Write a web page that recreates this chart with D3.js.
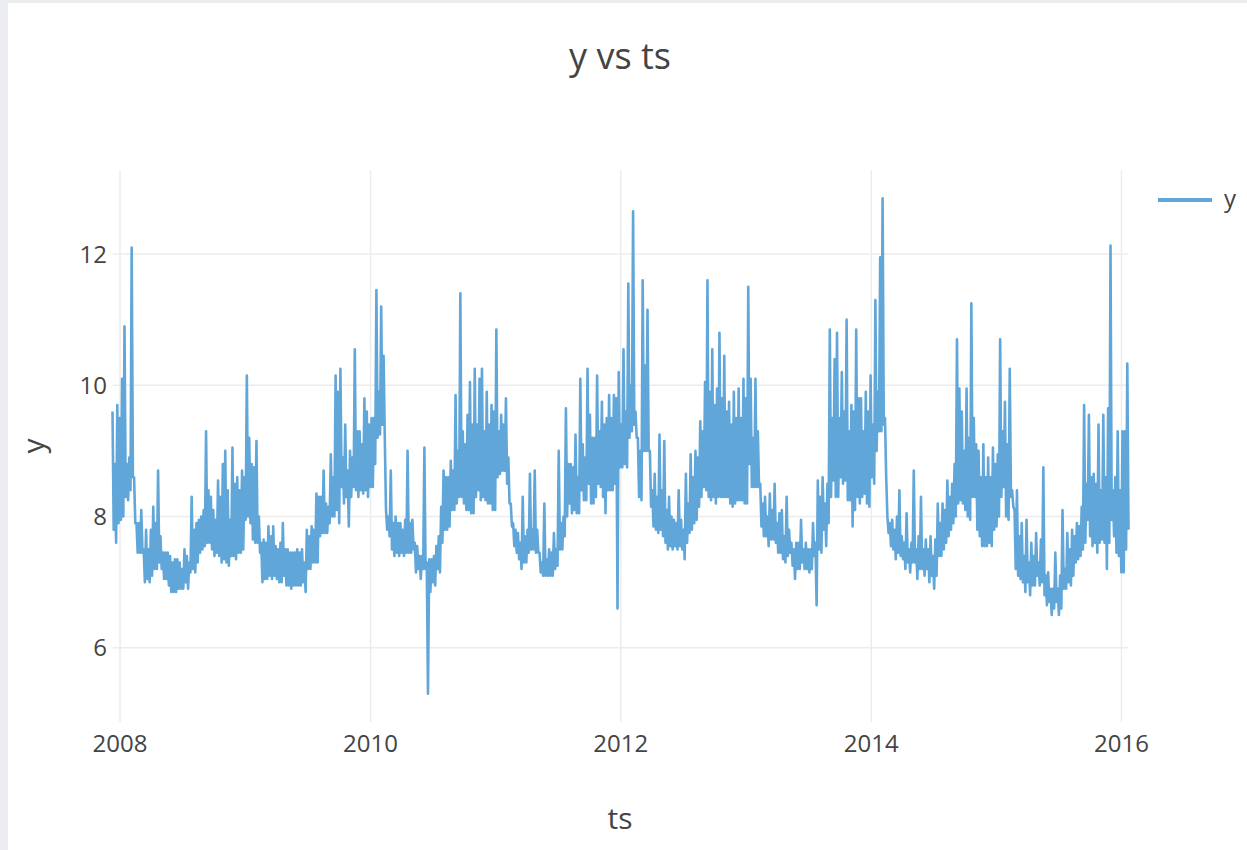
<!DOCTYPE html>
<html>
<head>
<meta charset="utf-8">
<script src="https://cdn.jsdelivr.net/npm/d3@7"></script>
<style>
  html, body { margin: 0; padding: 0; background: #ecedf1; }
  #svg-container { width: 1247px; height: 850px; }
  text { font-family: 'Open Sans', sans-serif; fill: #444; }
</style>
</head>
<body>
<div id="svg-container"></div>
<script>
// the daily series is read off as a weekly high (start of week)
// and a weekly low (half a week later), starting 2007-12-10
const startDate = '2007-12-10'
const stepHours = 84

// 2007-12-10 .. 2009-04-06
const high1 = [
  9.6, 8.8, 9.7, 9.5, 10.1, 10.9, 8.8, 8.9, 12.1, 8.6,
  7.9, 7.9, 8.1, 7.5, 7.8, 7.5, 7.8, 8.15, 7.9, 8.7,
  7.7, 7.45, 7.45, 7.45, 7.4, 7.3, 7.35, 7.35, 7.3, 7.2,
  7.5, 7.4, 7.3, 8.3, 7.8, 7.9, 7.95, 8.0, 8.1, 9.3,
  8.4, 8.3, 8.1, 7.95, 8.55, 8.3, 8.8, 9.0, 8.4, 7.95,
  9.05, 8.5, 8.6, 8.4, 8.7, 8.6, 10.15, 9.2, 8.8, 8.75,
  9.15, 8.0, 7.6, 7.65, 7.6, 7.85, 7.7, 7.85, 7.55, 7.5,
]
const low1 = [
  7.8, 7.6, 7.9, 7.95, 8.0, 8.3, 8.25, 8.4, 8.6, 7.9,
  7.45, 7.45, 7.45, 7.0, 7.05, 7.0, 7.1, 7.2, 7.2, 7.3,
  7.2, 7.05, 7.05, 6.95, 6.85, 6.85, 6.85, 6.9, 6.9, 6.9,
  7.0, 6.9, 7.15, 7.2, 7.15, 7.3, 7.45, 7.5, 7.55, 7.6,
  7.6, 7.5, 7.4, 7.45, 7.4, 7.3, 7.35, 7.3, 7.25, 7.4,
  7.4, 7.35, 7.45, 7.45, 7.5, 7.95, 8.0, 7.9, 7.65, 7.6,
  7.6, 7.45, 7.0, 7.05, 7.05, 7.1, 7.05, 7.1, 7.05, 7.0,
]
// 2009-04-13 .. 2010-08-02
const high2 = [
  7.6, 7.9, 7.5, 7.5, 7.45, 7.45, 7.45, 7.5, 7.45, 7.5,
  7.3, 7.8, 7.7, 7.85, 7.8, 8.35, 8.3, 8.3, 8.7, 8.2,
  8.15, 8.95, 8.6, 10.15, 9.9, 10.25, 8.9, 9.4, 8.7, 9.0,
  8.9, 10.55, 9.3, 9.3, 9.1, 9.8, 9.6, 9.4, 9.5, 9.5,
  11.45, 9.9, 11.2, 10.45, 8.1, 8.0, 8.7, 7.9, 8.0, 7.9,
  7.9, 7.8, 7.95, 9.0, 7.9, 7.95, 7.6, 7.55, 7.4, 7.4,
  9.05, 7.3, 7.35, 7.35, 7.4, 7.55, 7.7, 8.15, 8.7, 8.6,
]
const low2 = [
  7.0, 7.1, 6.95, 6.95, 6.9, 6.95, 6.95, 6.95, 6.95, 7.0,
  6.85, 7.2, 7.2, 7.3, 7.3, 7.3, 7.7, 7.75, 7.75, 7.75,
  7.9, 8.0, 8.0, 8.1, 7.9, 8.45, 8.2, 8.3, 7.85, 8.3,
  8.45, 8.4, 8.3, 8.4, 8.35, 8.4, 8.3, 8.45, 8.45, 8.8,
  9.2, 9.25, 9.4, 9.2, 7.8, 7.7, 7.5, 7.4, 7.45, 7.4,
  7.45, 7.4, 7.45, 7.45, 7.45, 7.5, 7.15, 7.2, 7.05, 7.2,
  7.2, 5.3, 6.85, 7.0, 6.95, 7.2, 7.15, 7.6, 7.8, 7.8,
]
// 2010-08-09 .. 2011-12-05
const high3 = [
  8.6, 8.85, 8.7, 9.85, 9.0, 11.4, 9.3, 9.1, 9.55, 10.05,
  9.4, 10.25, 9.4, 10.1, 10.25, 9.3, 9.9, 9.4, 9.7, 9.6,
  10.85, 9.3, 9.55, 9.4, 9.8, 8.9, 8.2, 7.9, 7.8, 7.75,
  7.6, 8.3, 7.7, 7.8, 8.65, 7.8, 8.7, 7.8, 7.45, 7.3,
  8.2, 7.35, 7.5, 7.45, 7.75, 7.5, 9.0, 7.9, 8.0, 9.65,
  8.8, 8.8, 8.75, 9.25, 8.6, 10.1, 9.1, 8.9, 10.25, 9.55,
  9.2, 9.2, 10.15, 9.3, 9.75, 9.4, 9.5, 9.85, 9.5, 9.85,
]
const low3 = [
  7.85, 8.1, 8.1, 8.2, 8.3, 8.3, 8.2, 8.1, 8.1, 8.05,
  8.05, 8.3, 8.4, 8.25, 8.3, 8.25, 8.2, 8.2, 8.1, 8.1,
  8.6, 8.65, 8.7, 8.7, 8.5, 8.2, 7.85, 7.55, 7.45, 7.35,
  7.2, 7.3, 7.3, 7.45, 7.5, 7.5, 7.45, 7.45, 7.15, 7.1,
  7.1, 7.1, 7.1, 7.1, 7.2, 7.25, 7.5, 7.5, 7.7, 8.0,
  8.2, 8.05, 8.1, 8.05, 8.05, 8.4, 8.25, 8.25, 8.5, 8.2,
  8.2, 8.3, 8.5, 8.45, 8.3, 8.05, 8.4, 8.4, 8.4, 8.5,
]
// 2011-12-12 .. 2013-04-01
const high4 = [
  9.8, 10.2, 9.4, 10.55, 9.6, 11.55, 10.0, 12.65, 9.6, 9.2,
  9.0, 11.6, 10.3, 11.15, 9.0, 8.4, 8.65, 8.3, 9.25, 8.4,
  9.15, 8.1, 8.3, 8.0, 7.95, 7.9, 8.4, 7.95, 7.8, 8.65,
  8.2, 8.95, 8.6, 9.0, 8.9, 9.45, 9.3, 10.05, 11.6, 9.9,
  10.55, 9.7, 9.95, 10.8, 9.8, 10.45, 9.6, 9.75, 9.4, 9.9,
  9.5, 9.95, 9.5, 10.1, 9.8, 11.5, 10.1, 9.2, 10.1, 9.3,
  8.5, 8.2, 8.3, 8.0, 8.35, 8.1, 8.5, 7.9, 8.05, 8.1,
]
const low4 = [
  6.6, 8.75, 8.75, 8.8, 8.75, 9.2, 9.3, 9.4, 9.2, 8.3,
  8.25, 9.0, 9.0, 9.0, 8.15, 7.85, 7.8, 7.75, 7.8, 7.7,
  7.6, 7.5, 7.55, 7.5, 7.55, 7.5, 7.55, 7.5, 7.35, 7.6,
  7.75, 7.8, 7.9, 7.95, 8.15, 8.3, 8.45, 8.4, 8.3, 8.25,
  8.3, 8.2, 8.3, 8.3, 8.3, 8.3, 8.3, 8.2, 8.15, 8.2,
  8.25, 8.25, 8.25, 8.2, 8.2, 8.8, 8.45, 8.45, 8.45, 8.45,
  7.85, 7.7, 7.7, 7.55, 7.65, 7.65, 7.6, 7.45, 7.45, 7.35,
]
// 2013-04-08 .. 2014-07-28
const high5 = [
  7.7, 8.3, 7.8, 7.6, 7.5, 7.6, 7.6, 7.95, 7.5, 7.6,
  7.5, 7.5, 7.9, 7.6, 8.55, 8.3, 8.6, 8.2, 8.5, 10.85,
  9.5, 10.4, 10.8, 9.5, 10.2, 9.6, 11.0, 9.3, 9.7, 9.6,
  10.85, 9.8, 9.8, 9.3, 9.9, 9.6, 10.15, 9.4, 11.3, 9.9,
  11.95, 12.85, 9.5, 8.0, 7.9, 7.95, 7.8, 8.0, 8.4, 7.7,
  7.6, 8.05, 7.5, 7.6, 8.7, 7.5, 7.7, 8.3, 7.5, 7.65,
  7.5, 7.7, 7.4, 7.65, 8.2, 7.9, 8.2, 8.1, 8.55, 8.3,
]
const low5 = [
  7.3, 7.4, 7.45, 7.25, 7.05, 7.2, 7.2, 7.3, 7.2, 7.2,
  7.15, 7.2, 7.4, 6.65, 7.5, 7.45, 7.8, 7.55, 7.9, 8.3,
  8.55, 8.3, 8.3, 8.6, 8.5, 8.55, 8.25, 8.25, 7.85, 8.1,
  8.3, 8.2, 8.3, 8.35, 8.2, 8.15, 8.6, 8.5, 9.0, 9.3,
  9.3, 9.4, 8.6, 7.75, 7.55, 7.5, 7.35, 7.45, 7.4, 7.35,
  7.2, 7.3, 7.15, 7.3, 7.3, 7.05, 7.2, 7.2, 7.1, 7.2,
  7.0, 7.1, 6.9, 7.1, 7.4, 7.4, 7.5, 7.6, 7.7, 7.8,
]
// 2014-08-04 .. 2016-01-18
const high6 = [
  8.5, 8.8, 10.7, 9.95, 9.6, 9.0, 9.95, 9.2, 11.25, 9.5,
  9.1, 9.0, 8.6, 9.1, 8.6, 8.9, 8.6, 9.05, 8.8, 8.95,
  10.7, 9.3, 9.75, 9.1, 10.25, 8.4, 8.1, 8.4, 7.7, 7.9,
  7.4, 7.95, 7.3, 7.6, 7.4, 7.75, 7.3, 7.65, 8.75, 7.1,
  7.15, 6.9, 6.9, 7.45, 6.9, 7.1, 8.1, 7.2, 7.75, 7.5,
  7.8, 7.7, 7.9, 7.85, 8.15, 9.7, 8.5, 9.55, 8.6, 8.65,
  8.5, 9.4, 8.4, 9.55, 8.6, 9.65, 12.13, 8.4, 8.6, 9.3,
  8.4, 9.3, 9.3, 10.33,
]
const low6 = [
  7.9, 8.0, 8.2, 8.25, 8.2, 8.1, 8.0, 7.95, 8.3, 8.3,
  7.8, 7.7, 7.55, 7.55, 7.55, 7.6, 7.55, 7.8, 7.85, 8.0,
  8.3, 8.45, 8.0, 7.95, 8.3, 8.15, 7.2, 7.1, 7.05, 7.0,
  6.85, 7.0, 6.8, 6.95, 6.95, 7.1, 6.95, 7.0, 6.8, 6.65,
  6.7, 6.5, 6.6, 6.7, 6.5, 6.6, 6.9, 6.9, 7.0, 6.95,
  7.1, 7.3, 7.35, 7.4, 7.5, 7.6, 7.95, 7.7, 7.55, 7.6,
  7.45, 7.6, 7.65, 7.6, 7.2, 7.6, 7.95, 7.7, 7.45, 7.4,
  7.15, 7.15, 7.5, 7.8,
]

const yTicks = [6, 8, 10, 12]
const seriesName = 'y'
const chartTitle = 'y vs ts'
const xTitle = 'ts'
const yTitle = 'y'

const lineColor = '#61a6d9'
const gridColor = '#ececec'

const width = 1247
const height = 850
const margin = { top: 170, right: 118.5, bottom: 128, left: 112.5 }

const container = document.getElementById('svg-container')
const svg = d3.select(container).append('svg')
  .attr('width', width)
  .attr('height', height)

// light grey frame of the page, white paper
svg.append('rect').attr('width', width).attr('height', height).attr('fill', '#ecedf1')
svg.append('rect').attr('x', 8).attr('y', 3)
  .attr('width', width - 8).attr('height', height - 3).attr('fill', '#fff')

const highs = [...high1, ...high2, ...high3, ...high4, ...high5, ...high6]
const lows = [...low1, ...low2, ...low3, ...low4, ...low5, ...low6]
const values = highs.flatMap((h, i) => [h, lows[i]])

const start = d3.timeParse('%Y-%m-%d')(startDate)
const data = values.map((v, i) => ({ ts: d3.timeHour.offset(start, i * stepHours), y: v }))

const [yMin, yMax] = d3.extent(data, d => d.y)
const pad = (yMax - yMin) * 0.057

const x = d3.scaleTime()
  .domain(d3.extent(data, d => d.ts))
  .range([margin.left, width - margin.right])

const y = d3.scaleLinear()
  .domain([yMin - pad, yMax + pad])
  .range([height - margin.bottom, margin.top])

const g = svg.append('g')

// grid
g.append('g')
  .selectAll('line')
  .data(yTicks)
  .join('line')
  .attr('x1', margin.left)
  .attr('x2', width - margin.right)
  .attr('y1', d => y(d))
  .attr('y2', d => y(d))
  .attr('stroke', gridColor)
  .attr('stroke-width', 1.5)

const xTicks = x.ticks(d3.timeYear.every(2))

g.append('g')
  .selectAll('line')
  .data(xTicks)
  .join('line')
  .attr('x1', d => x(d))
  .attr('x2', d => x(d))
  .attr('y1', margin.top)
  .attr('y2', height - margin.bottom)
  .attr('stroke', gridColor)
  .attr('stroke-width', 1.5)

// tick labels
g.append('g')
  .selectAll('text')
  .data(yTicks)
  .join('text')
  .attr('x', 107)
  .attr('y', d => y(d))
  .attr('dy', '0.36em')
  .attr('text-anchor', 'end')
  .attr('font-size', 24)
  .text(d => d)

g.append('g')
  .selectAll('text')
  .data(xTicks)
  .join('text')
  .attr('x', d => x(d))
  .attr('y', 752)
  .attr('text-anchor', 'middle')
  .attr('font-size', 24)
  .text(d3.timeFormat('%Y'))

// series
const line = d3.line()
  .x(d => x(d.ts))
  .y(d => y(d.y))

g.append('path')
  .datum(data)
  .attr('fill', 'none')
  .attr('stroke', lineColor)
  .attr('stroke-width', 2.6)
  .attr('stroke-linejoin', 'round')
  .attr('d', line)

// titles
svg.append('text')
  .attr('x', 620)
  .attr('y', 69)
  .attr('text-anchor', 'middle')
  .attr('font-size', 36)
  .text(chartTitle)

svg.append('text')
  .attr('x', 620)
  .attr('y', 829)
  .attr('text-anchor', 'middle')
  .attr('font-size', 30)
  .text(xTitle)

svg.append('text')
  .attr('transform', `translate(44, ${(margin.top + height - margin.bottom) / 2}) rotate(-90)`)
  .attr('text-anchor', 'middle')
  .attr('font-size', 30)
  .text(yTitle)

// legend
const legend = svg.append('g').attr('transform', 'translate(1158, 200)')
legend.append('line')
  .attr('x1', 0).attr('x2', 54)
  .attr('stroke', lineColor)
  .attr('stroke-width', 4)
legend.append('text')
  .attr('x', 66)
  .attr('dy', '0.3em')
  .attr('font-size', 24)
  .text(seriesName)
</script>
</body>
</html>
